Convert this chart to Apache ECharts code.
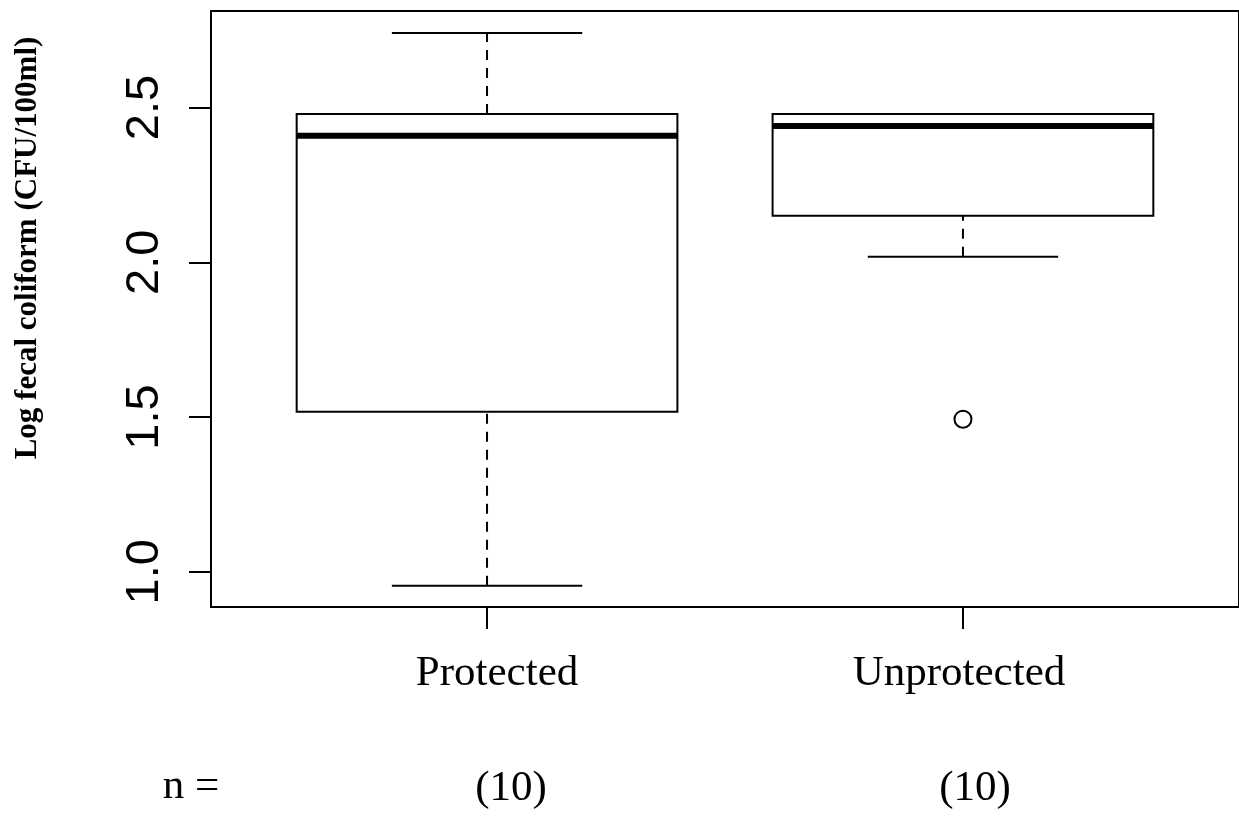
<!DOCTYPE html>
<html><head><meta charset="utf-8">
<script src="https://cdn.jsdelivr.net/npm/echarts@6/dist/echarts.min.js"></script>
<style>html,body{margin:0;padding:0;background:#fff}#c{width:1239px;height:821px}</style>
</head><body><div id="c"></div>
<script>
// ---- data ----
const categories = ['Protected', 'Unprotected'];
const counts = [10, 10];
const whiskerLow = [0.955, 2.018];
const q1 = [1.517, 2.150];
const median = [2.409, 2.440];
const q3 = [2.479, 2.479];
const whiskerHigh = [2.741, 2.479];
const outlierCat = [2];
const outlierVal = [1.493];
const yTicks = [1.0, 1.5, 2.0, 2.5];
const yTitle = 'Log fecal coliform (CFU/100ml)';
const nLabel = 'n =';

// ---- layout constants ----
const X_MIN = 0.42, X_MAX = 2.58;
const Y_MIN = 0.886, Y_MAX = 2.812;
const SERIF = '"Liberation Serif", "Times New Roman", serif';
const SANS = '"Liberation Sans", Arial, sans-serif';

const boxData = categories.map((c, i) => [i + 1, whiskerLow[i], q1[i], median[i], q3[i], whiskerHigh[i]]);
const outData = outlierCat.map((c, i) => [c, outlierVal[i]]);

const chart = echarts.init(document.getElementById('c'), null, {renderer: 'canvas'});

const catShift = [20, -8];   // padding to emulate label offsets
const cntShift = [48, 24];
const catRich = {}, cntRich = {};
categories.forEach((c, i) => {
  catRich['c' + i] = {fontFamily: SERIF, fontSize: 43, color: '#000',
    padding: catShift[i] >= 0 ? [0, 0, 0, catShift[i]] : [0, -catShift[i], 0, 0]};
  cntRich['n' + i] = {fontFamily: SERIF, fontSize: 43, color: '#000',
    padding: cntShift[i] >= 0 ? [0, 0, 0, cntShift[i]] : [0, -cntShift[i], 0, 0]};
});

chart.setOption({
  backgroundColor: '#fff',
  animation: false,
  grid: {left: 211, top: 11, width: 1028, height: 596, show: true,
         borderColor: '#000', borderWidth: 2, backgroundColor: 'transparent'},
  xAxis: [{
    type: 'value', min: X_MIN, max: X_MAX, position: 'bottom',
    splitLine: {show: false},
    axisLine: {show: true, onZero: false, lineStyle: {color: '#000', width: 2}},
    axisTick: {show: true, length: 22, customValues: [1, 2], lineStyle: {color: '#000', width: 2}},
    axisLabel: {show: true, margin: 45, customValues: [1, 2], color: '#000',
      fontFamily: SERIF, fontSize: 43, rich: catRich,
      formatter: v => { const i = Math.round(v) - 1; return '{c' + i + '|' + categories[i] + '}'; }}
  }, {
    type: 'value', min: X_MIN, max: X_MAX, position: 'bottom', offset: 115,
    splitLine: {show: false}, axisLine: {show: false}, axisTick: {show: false},
    axisLabel: {show: true, margin: 45, customValues: [1, 2], color: '#000',
      fontFamily: SERIF, fontSize: 43, rich: cntRich,
      formatter: v => { const i = Math.round(v) - 1; return '{n' + i + '|(' + counts[i] + ')}'; }}
  }],
  yAxis: {
    type: 'value', min: Y_MIN, max: Y_MAX,
    splitLine: {show: false},
    axisLine: {show: true, onZero: false, lineStyle: {color: '#000', width: 2}},
    axisTick: {show: true, length: 22, customValues: yTicks, lineStyle: {color: '#000', width: 2}},
    axisLabel: {show: true, rotate: 90, margin: 42, customValues: yTicks, color: '#000',
      fontFamily: SANS, fontSize: 47, formatter: v => v.toFixed(1)}
  },
  graphic: [
    {type: 'text', x: 28, y: 248, rotation: Math.PI / 2,
     style: {text: yTitle, font: 'bold 31px ' + SERIF, fill: '#000',
             align: 'center', verticalAlign: 'middle', textAlign: 'center', textVerticalAlign: 'middle'}},
    {type: 'text', x: 191, y: 787,
     style: {text: nLabel, font: '43px ' + SERIF, fill: '#000',
             align: 'center', verticalAlign: 'middle', textAlign: 'center', textVerticalAlign: 'middle'}}
  ],
  series: [{
    type: 'custom',
    xAxisIndex: 0,
    data: boxData,
    renderItem: (params, api) => {
      const x = api.value(0);
      const lo = api.value(1), a = api.value(2), m = api.value(3), b = api.value(4), hi = api.value(5);
      const boxHalf = 0.4, capHalf = 0.2;
      const c = api.coord([x, m]);
      const tl = api.coord([x - boxHalf, b]);
      const br = api.coord([x + boxHalf, a]);
      const mL = api.coord([x - boxHalf, m]);
      const mR = api.coord([x + boxHalf, m]);
      const pLo = api.coord([x, lo]), pA = api.coord([x, a]), pB = api.coord([x, b]), pHi = api.coord([x, hi]);
      const capLoL = api.coord([x - capHalf, lo]), capLoR = api.coord([x + capHalf, lo]);
      const capHiL = api.coord([x - capHalf, hi]), capHiR = api.coord([x + capHalf, hi]);
      const ls = {stroke: '#000', lineWidth: 2, fill: null};
      const dash = {stroke: '#000', lineWidth: 2, lineDash: [10, 8], fill: null};
      return {type: 'group', children: [
        {type: 'line', shape: {x1: pLo[0], y1: pLo[1], x2: pA[0], y2: pA[1]}, style: dash},
        {type: 'line', shape: {x1: pB[0], y1: pB[1], x2: pHi[0], y2: pHi[1]}, style: dash},
        {type: 'line', shape: {x1: capLoL[0], y1: capLoL[1], x2: capLoR[0], y2: capLoR[1]}, style: ls},
        {type: 'line', shape: {x1: capHiL[0], y1: capHiL[1], x2: capHiR[0], y2: capHiR[1]}, style: ls},
        {type: 'rect', shape: {x: tl[0], y: tl[1], width: br[0] - tl[0], height: br[1] - tl[1]}, style: ls},
        {type: 'line', shape: {x1: mL[0], y1: mL[1], x2: mR[0], y2: mR[1]}, style: {stroke: '#000', lineWidth: 6}}
      ]};
    }
  }, {
    type: 'scatter',
    xAxisIndex: 0,
    data: outData,
    symbol: 'circle', symbolSize: 17,
    itemStyle: {color: 'rgba(0,0,0,0)', borderColor: '#000', borderWidth: 2, opacity: 1}
  }]
});
</script></body></html>
